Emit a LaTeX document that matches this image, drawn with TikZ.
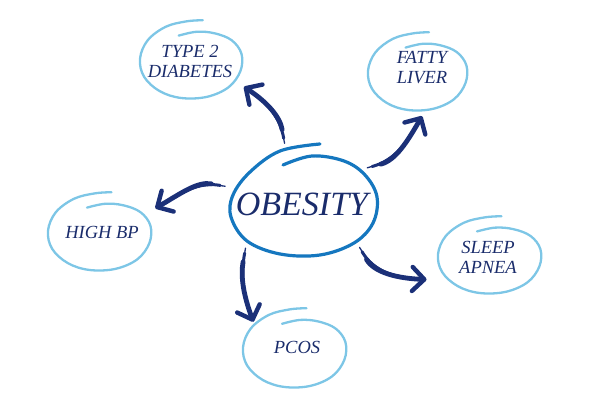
\documentclass[tikz,border=0pt]{standalone}
\usepackage{fontspec}
\setmainfont{Liberation Serif}
\usetikzlibrary{arrows.meta,shapes.geometric,calc}
\definecolor{navy}{HTML}{1B3078}
\definecolor{txt}{HTML}{1A2C6B}
\definecolor{midblue}{HTML}{1577BF}
\definecolor{lightblue}{HTML}{7DC6E6}
\tikzset{
 bub/.style={shape=ellipse, inner sep=0pt, minimum height=92pt, text=txt, font=\fontsize{18.5}{20}\selectfont\itshape},
 loopout/.style={draw=lightblue, line width=2.3pt, line cap=round},
 loopmain/.style={draw=midblue, line width=3.2pt, line cap=round},
 shaftA/.style={draw=navy, line width=1.3pt, line cap=round, shorten >=4pt},
 shaftB/.style={draw=navy, line width=3pt, line cap=round, shorten <=5pt, shorten >=4pt},
 shaftC/.style={draw=navy, line width=4.8pt, line cap=round, shorten <=14pt, -{Straight Barb[length=12pt,width=24pt,line width=4.4pt,round]}},
}
\newcommand\taperarrow[3]{%
 \draw[shaftA] #1 to[#3] #2;
 \draw[shaftB] #1 to[#3] #2;
 \draw[shaftC] #1 to[#3] #2;
}
\newcommand\outerloop[4]{%
 \draw[loopout, shift={(#1.center)}, shift={#2}, xscale=#3, yscale=#4] plot[smooth,tension=0.6] coordinates {(-0.25,0.62) (0.1,0.72) (0.45,0.68) (0.78,0.5) (0.97,0.15) (0.95,-0.3) (0.72,-0.72) (0.3,-0.97) (-0.2,-1.0) (-0.62,-0.82) (-0.92,-0.45) (-1.0,0.02) (-0.85,0.5) (-0.5,0.85) (-0.1,0.99) (0.22,1.02)};%
}
\begin{document}
\begin{tikzpicture}[x=1pt,y=1pt]
\useasboundingbox (0,0) rectangle (606,404);
\node[bub, minimum width=160pt, minimum height=124pt, font=\fontsize{34}{38}\selectfont\itshape] (ob) at (302,200) {\makebox[0pt]{OBESITY}};
\node[bub, minimum width=124pt] (db) at (190,340) {\makebox[0pt]{\begin{tabular}{@{}c@{}}TYPE 2\\DIABETES\end{tabular}}};
\node[bub, minimum width=124pt] (fl) at (422,334) {\makebox[0pt]{\begin{tabular}{@{}c@{}}FATTY\\LIVER\end{tabular}}};
\node[bub, minimum width=124pt] (hb) at (102,172) {\makebox[0pt]{HIGH BP}};
\node[bub, minimum width=136pt] (sa) at (488,144.5) {\makebox[0pt]{\begin{tabular}{@{}c@{}}SLEEP\\APNEA\end{tabular}}};
\node[bub, minimum width=104pt] (pc) at (297,57) {\makebox[0pt]{PCOS}};
\draw[loopmain, shift={(ob.center)}, shift={(0,-1)}] plot[smooth,tension=0.6] coordinates {(-19,40) (10,49) (42,44) (63,30) (75,8) (71,-18) (52,-38) (18,-50) (-22,-49) (-55,-36) (-71,-12) (-69,10) (-52,33) (-22,54) (18,61)};
\outerloop{db}{(1.5,4.5)}{51.5}{38.5}
\outerloop{fl}{(-4,-1.5)}{50}{38.5}
\outerloop{hb}{(-2,0.5)}{52}{38.5}
\outerloop{sa}{(2,4.5)}{52}{38}
\outerloop{pc}{(-2,-1)}{52}{39}
\taperarrow{(ob.106)}{(db.-23.5)}{out=100,in=-33}
\taperarrow{(ob.167)}{(hb.24.4)}{out=170,in=30}
\taperarrow{(ob.29.3)}{(fl.-90)}{out=15,in=240}
\taperarrow{(ob.-37.5)}{(sa.198.6)}{out=-60,in=178}
\taperarrow{(ob.218.9)}{(pc.150.4)}{out=-100,in=110}
\end{tikzpicture}
\end{document}
